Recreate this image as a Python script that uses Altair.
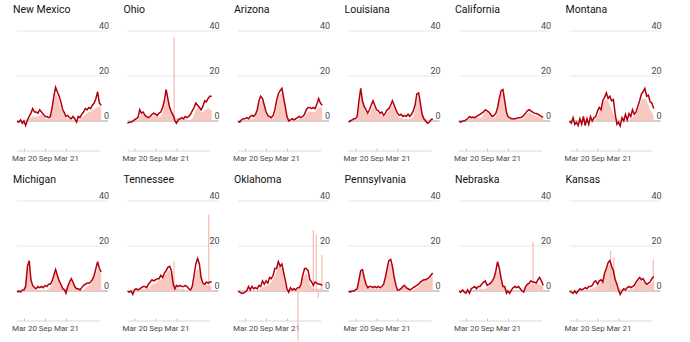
import altair as alt
import pandas as pd

STATES = ["New Mexico", "Ohio", "Arizona", "Louisiana", "California", "Montana",
          "Michigan", "Tennessee", "Oklahoma", "Pennsylvania", "Nebraska", "Kansas"]

# half-monthly points, Jan 2020 - Jan 2022
DATES = [f"{y}-{m:02d}-{d:02d}" for y in (2020, 2021) for m in range(1, 13) for d in (1, 16)] + ["2022-01-01"]

EXCESS = {
    "New Mexico": [0,-0.5,0.5,-1,0,-2,0.5,2,3.5,5.5,4,4,3.5,5,4,3,2,2,1.5,2,6,11,15,13,11,8.5,5,3.5,2,2.5,1.5,1,2,1,-0.5,2,1.5,3,4,5.5,5,6,5.5,7,8,10,13,8,7],
    "Ohio": [-1,-0.5,-0.5,0,0.5,1,1.5,5,3.5,4,2.5,2,1.5,2,3,3.5,3,2.5,3.5,4,6,9,14,10,6,4,2.5,0,-1,0.5,1,1.5,1,2,1.5,2,3,4.5,6,8,7,6,5,6.5,9,8.5,10,11,11],
    "Arizona": [0,-0.5,0.5,1,1,1.5,1,2,2.5,2,3,5,9,11,10,7,4,2.5,2,1.5,2.5,5,9,12,13.5,14.5,10,6,2,0,0.5,1,0.5,1,1.5,2,1.5,2,3,5,6,6,5.5,6,5.5,7.5,10,8,7],
    "Louisiana": [-0.5,0,0.5,1,1,2,9,14.5,9,6.5,5,3.5,5,7,9,7,5,4.5,3.5,4,2.5,3.5,5,5.5,7,9,7,5,3.5,2.5,3,2,2.5,2,3,2,3,4.5,7,12,12.5,8,3,1,0,-1,-0.5,0.5,1],
    "California": [0,-0.5,0,0,0.5,1,2,1.5,1.8,1.5,2,2.5,3,3.5,4,5,4.5,4,3,2,2.5,3.5,6,10,13.5,14,9,4,2,1.5,1,1,1,1.2,1.5,1.5,1.8,2.5,3.5,4.5,5,4.5,4,3.5,3.3,3,2.5,2,1.8],
    "Montana": [0,-1,1.5,-1.5,-0.5,-2,1,-1.5,2,-2,1,-1.5,2,0,1.5,2,4.5,6,5,9,10.5,12.5,10,11,9,9.5,3,-1.5,-0.5,-2.2,1.5,0,3,0.5,3.3,2,5,3,4,6.5,9,12,13,14.5,11,11.5,8.5,8,5.5],
    "Michigan": [-0.5,0,-0.5,0.5,0.5,2,11,13.5,5,2.5,1.5,1,2,1.5,2,1.5,2.5,2,3,3,4.5,7,9.5,7,4.5,3,1,0.5,-1,2,4,5.5,4,2,1,1,0.5,1.5,2.5,3,3.5,3.5,4,5,7,10,13,10,8.5],
    "Tennessee": [0,-0.5,0,-1.5,0.5,1,0.5,1,1.5,2,2,1.5,3,4,5,4.5,5,5.5,5.5,7,6,8,9,10.5,11,9,3,1,2.5,2,2.5,2,2,2.5,2,1,0.5,2,7,12,14.5,12,6,3.5,3,4,3.5,4,4],
    "Oklahoma": [0,-0.5,-1,-1,-0.5,0,2,0.5,2,1,1.5,1,2.5,2,4.5,3,4.5,3.5,6,5.5,7,10,10,13,11,12,8,4.5,1,-0.5,1.5,0.5,1,0.5,1.5,1.5,3,7,10,10,9,5,4,2.5,4,3.5,3,3,2.5],
    "Pennsylvania": [0,-0.5,0,0,0.5,1,5,9,9.5,6,3,1.5,2,2,1.5,2,1.5,2,1.5,2,3,6,10,13.5,14,11,6,2.5,0.5,0.5,1,2,2.5,1.5,1,0.5,1,1.5,2,2.5,3,4,4.5,5,5,5.5,6,7,8],
    "Nebraska": [0,-0.5,0.5,-0.5,-1,0.5,-1,1,1.5,2,1,2,2,3,4,4.5,2.5,3,3.5,4.5,6,9,13,10,5.5,2,2,-1,0,-1,0.5,1.5,2,1.5,2,1,0,-0.5,2,3,3.5,4.5,4,4,3.5,5,6,4.5,2.5],
    "Kansas": [0,-0.5,-1,0,-1,0,1,0.5,1,1.5,1,2,2,2.5,4,4.5,3,4.5,5,4,8,10,12.5,13.5,11,9,5,3,0.5,-1.5,0,1,0.5,1.5,2,1.5,2,2.5,4,5,6,5,5.5,4,3,3.5,4,5.5,6.5],
}

COVID = {
    "New Mexico": [0,0,0,0,0,0,0.5,1,1.5,2,2,2,2,2.5,3,2,1.5,1,1,1.5,4,9,12,11,9,6,4,2.5,1.5,1,1,0.5,0.5,0.5,0.5,0.5,0.5,1.5,2,3,3.5,4,4,5,5,6,6,7,6],
    "Ohio": [0,0,0,0,0,0,0,2,3,3,2,1.5,1.5,1.5,2,2.5,2.5,2,2,2,4,7,10,9,7,5,3,2,1.5,1,1,1,1,1,0.5,0.5,0.5,1,3,5,6,5,4,4,5,5,6,5,5],
    "Arizona": [0,0,0,0,0,0,1,1,1,1,2,4,7,9,9,6,3,2,1.5,1,1,3,6,10,12,12,9,5,3,1.5,1,1,0.5,0.5,0.5,1,1,1,2,3,4,4.5,4,4,4,5,6,6,6],
    "Louisiana": [0,0,0,0,0,1,6,12,9,6,4,3,3,5,7,6,4,3.5,3,2.5,2,2.5,3.5,4.5,6,7,6,4,2.5,1.5,1.5,1,1,1,1,1,1,2,5,9,11,8,4,2,1,0.5,0.5,0.5,0.5],
    "California": [0,0,0,0,0,0,1,1.5,1.5,1.5,1.5,1.5,1.5,1.5,3,4,4,3.5,2.5,1.5,1.5,2,5,9,12,12,8,4,2,1.5,0.8,0.8,0.8,0.8,0.8,0.8,0.8,1.5,2.5,3.5,4,3.5,3,2.5,2,2,1.5,1.5,1.5],
    "Montana": [0,0,0,0,0,0,0,0,0,0,0,0,0.5,0.5,0.5,1,2,4,6,8,9,9.5,9,7,5,3,2,1,0.5,0.5,0.5,0.5,0.5,0.5,0.5,1,1.5,2,3,5,7,9,10,10,9,7,5,4,2],
    "Michigan": [0,0,0,0,1,5,10,11,5,2,1,0.5,0.5,0.5,0.5,0.5,0.5,0.5,1,1.5,3,6,8,7,5,3,2,1,1,2,4,5,4,2,1,0.5,0.5,0.5,0.5,1,2,2.5,3,4,6,8,10,9,8],
    "Tennessee": [0,0,0,0,0,0.5,0.5,0.5,1,1,1,1,1,2,3,3,3.5,4,5,5,6,7,8,9,9,7,4,2,1.5,1,1,1,1,0.5,0.5,0.5,1,1,4,8,10,9,6,4,3,3,2.5,2.5,2],
    "Oklahoma": [0,0,0,0,0,0.5,0.5,0.5,0.5,0.5,0.5,0.5,0.5,1,1.5,2,2,2.5,3,4,5,7,9,11,11,10,6,3,1,0.5,0.5,0.5,0.5,0.5,0.5,1,2,5,7,8,6,3,2,1,1,1,1,1,1],
    "Pennsylvania": [0,0,0,0,0,1,4,8,8,5,3,2,1.5,1,1,1,1,1,1,1.5,2.5,5,9,12,12,10,5,2.5,1,1,1.5,2,2,1.5,1,0.5,0.5,0.5,1,1.5,2,3,4,4.5,5,5,5.5,6,7],
    "Nebraska": [0,0,0,0,0,0,0,0,0,0,0,0.5,1,1,1,1,1.5,2,3,4,6,8,9,8,5,3,2,1,0.5,0.5,0.5,0.5,0.5,0.5,0.5,0.5,0.5,1,2,3,3.5,3.5,3,3,3,3,3,2.5,2],
    "Kansas": [0,0,0,0,0,0,0.5,0.5,0.5,0.5,0.5,0.5,1,1,1.5,2,2,3,4,5,7,9,11,12,11,8,5,3,1.5,1,0.5,0.5,0.5,0.5,0.5,1,1,1.5,3,4,5,4.5,4,3.5,3,3,3,3.5,4],
}

# single-day reporting spikes in official deaths
SPIKE_STATE = ["Ohio", "Tennessee", "Tennessee", "Oklahoma", "Oklahoma", "Oklahoma", "Oklahoma",
               "Oklahoma", "Nebraska", "Kansas", "Kansas", "Kansas"]
SPIKE_DATE = ["2021-02-09", "2021-02-08", "2021-12-06", "2021-06-05", "2021-10-16", "2021-11-11",
              "2021-11-28", "2021-12-30", "2021-10-05", "2020-12-23", "2021-01-20", "2021-12-28"]
SPIKE_VALUE = [37, 13, 34, -22, 27, 25, -3, 16, 22, 18, 15, 14]

Y_TICKS = [0, 20, 40]
Y_DOMAIN = [-13.33, 40]
X_TICKS = ["2020-03-01", "2020-09-01", "2021-03-01"]
X_LABELS = ["Mar 20", "Sep", "Mar 21"]

RED = "#b2000c"
PINK = "#f8c7c0"
SPIKE_PINK = "#f6b9b1"
FONT = "Roboto"
W, H = 91, 120
AXIS_LEN = 83


def dt(s):
    y, m, d = (int(p) for p in s.split("-"))
    return alt.DateTime(year=y, month=m, date=d)


x_domain = [dt("2020-01-01"), dt("2022-03-01")]
label_expr = "''"
for v, lab in reversed(list(zip(X_TICKS, X_LABELS))):
    label_expr = f"timeFormat(datum.value, '%Y-%m-%d') == '{v}' ? '{lab}' : " + label_expr

xscale = alt.Scale(domain=x_domain)
yscale = alt.Scale(domain=Y_DOMAIN, nice=False, zero=False)
xaxis = alt.Axis(values=[dt(v) for v in X_TICKS], labelExpr=label_expr, domain=False, grid=False,
                 ticks=True, tickSize=3, tickColor="#bcc6ce", offset=-3, labelPadding=3,
                 labelFontSize=8, labelColor="#4a4a4a", labelFont=FONT, labelFlush=False,
                 labelOverlap=False, title=None)

ticks_df = pd.DataFrame({"v": Y_TICKS})


def panel(state):
    df = pd.DataFrame({"date": pd.to_datetime(DATES), "excess": EXCESS[state], "covid": COVID[state]})
    grid = alt.Chart(ticks_df).mark_rule(strokeWidth=1).encode(
        y=alt.Y("v:Q", scale=yscale, axis=None),
        x=alt.value(0), x2=alt.value(W),
        color=alt.condition("datum.v == 0", alt.value("#a0a0a0"), alt.value("#e3e8ec")),
    )
    labels = alt.Chart(ticks_df).mark_text(align="right", baseline="alphabetic", dy=-2,
                                           fontSize=9, font=FONT, color="#4a4a4a").encode(
        y=alt.Y("v:Q", scale=yscale, axis=None), x=alt.value(W + 1), text="v:Q")
    base = alt.Chart(df)
    area = base.mark_area(color=PINK).encode(
        x=alt.X("date:T", scale=xscale, axis=xaxis),
        y=alt.Y("covid:Q", scale=yscale, axis=None), y2=alt.datum(0))
    line = base.mark_line(color=RED, strokeWidth=1.5).encode(
        x=alt.X("date:T", scale=xscale), y=alt.Y("excess:Q", scale=yscale, axis=None))
    xline = alt.Chart(ticks_df.head(1)).mark_rule(color="#d3dbe1", strokeWidth=1).encode(
        x=alt.value(0), x2=alt.value(AXIS_LEN), y=alt.value(H))
    layers = [grid, area]
    sp = pd.DataFrame({"s": SPIKE_STATE, "date": pd.to_datetime(SPIKE_DATE), "v": SPIKE_VALUE})
    sp = sp[sp.s == state]
    if len(sp):
        layers.append(alt.Chart(sp).mark_rule(color=SPIKE_PINK, strokeWidth=1.2).encode(
            x=alt.X("date:T", scale=xscale), y=alt.Y("v:Q", scale=yscale, axis=None), y2=alt.datum(0)))
    layers += [line, xline, labels]
    return alt.layer(*layers).properties(
        width=W, height=H,
        title=alt.TitleParams(text=state, anchor="start", frame="group", fontSize=10.5, font=FONT,
                              fontWeight="normal", color="#121212", offset=7, dx=-4))


rows = [alt.hconcat(*[panel(s) for s in STATES[i:i + 6]], spacing=12.5) for i in (0, 6)]
chart = alt.vconcat(*rows, spacing=12).properties(
    padding={"left": 11, "top": 4, "right": 2, "bottom": 2}, background="white"
).configure_view(stroke=None)

chart.save("out.html", embed_options={"renderer": "svg", "actions": False})
